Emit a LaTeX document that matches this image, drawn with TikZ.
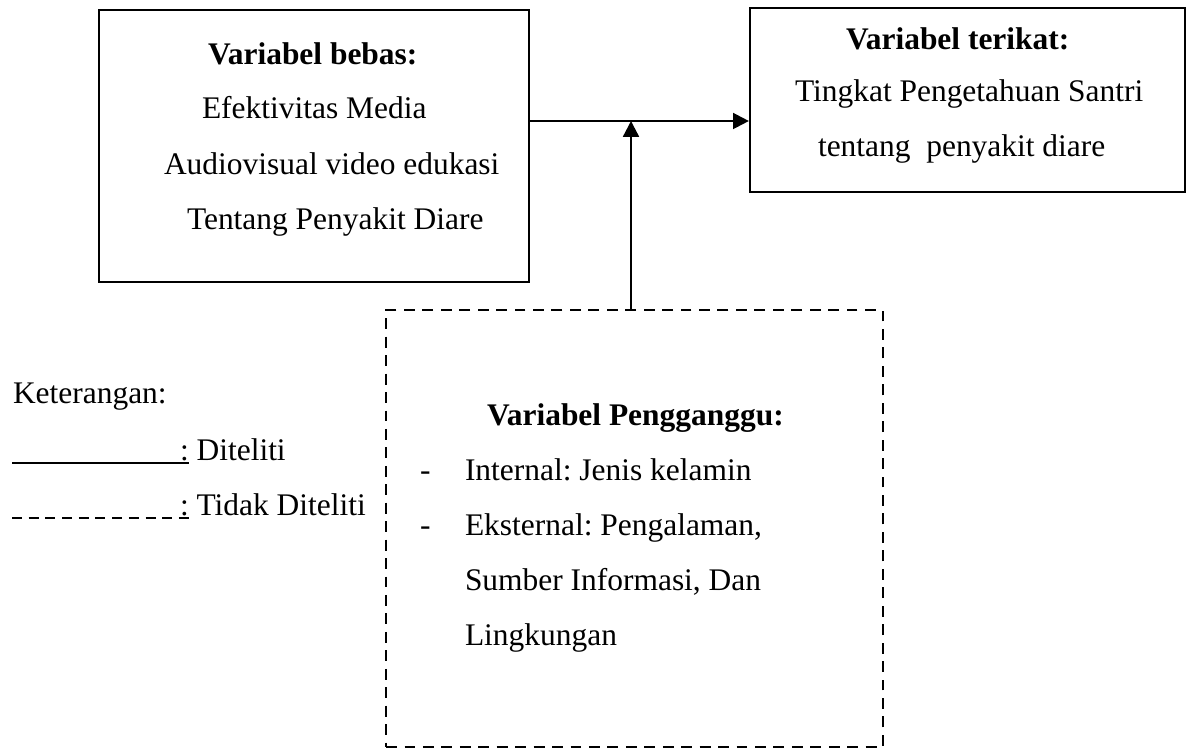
\documentclass[tikz,border=0pt]{standalone}
\usepackage{fontspec}
\setmainfont{Liberation Serif}
\usetikzlibrary{arrows.meta}
\frenchspacing
\begin{document}
\begin{tikzpicture}[x=0.02cm,y=-0.02cm,
  every node/.style={font=\fontsize{17.9pt}{20pt}\selectfont},
  txt/.style={anchor=base west,inner sep=0pt,outer sep=0pt},
  solidbox/.style={draw,line width=1.3pt,inner sep=0pt},
  dashbox/.style={draw,line width=1.3pt,inner sep=0pt,dash pattern=on 6.2pt off 4.3pt},
  arr/.style={line width=1.3pt,-{Triangle[length=9pt,width=9pt]}},
  legline/.style={line width=1.1pt}]
\useasboundingbox (0,0) rectangle (1189,756);
% boxes
\node[solidbox,minimum width=8.6cm,minimum height=5.44cm] (b1) at (314,146) {};
\node[solidbox,minimum width=8.7cm,minimum height=3.68cm] (b2) at (967.5,100) {};
\node[dashbox,minimum width=9.94cm,minimum height=8.74cm] (b3) at (634.5,528.5) {};
% box 1 text
\node[txt] (t1a) at (208,65) {\textbf{Variabel bebas:}};
\node[txt] (t1b) at (202,119) {Efektivitas Media};
\node[txt] (t1c) at (164,175) {Audiovisual video edukasi};
\node[txt] (t1d) at (187,230) {Tentang Penyakit Diare};
% box 2 text
\node[txt] (t2a) at (846,50) {\textbf{Variabel terikat:}};
\node[txt] (t2b) at (795,102) {Tingkat Pengetahuan Santri};
\node[txt] (t2c) at (818,157) {tentang\ \ penyakit diare};
% box 3 text
\node[txt] (t3a) at (487,425) {\textbf{Variabel Pengganggu:}};
\node[txt] (d1) at (420,480) {-};
\node[txt] (t3b) at (465,480) {Internal: Jenis kelamin};
\node[txt] (d2) at (420,535) {-};
\node[txt] (t3c) at (465,535) {Eksternal: Pengalaman,};
\node[txt] (t3d) at (465,590) {Sumber Informasi, Dan};
\node[txt] (t3e) at (465,645) {Lingkungan};
% connectors
\coordinate (j) at (631,121);
\draw[arr] (b1.east |- j) -- (b2.west |- j);
\draw[arr] (b3.north -| j) -- (j);
% legend
\node[txt] (k) at (13,403) {Keterangan:};
\coordinate (l1a) at (12,463);
\coordinate (l1b) at (189,463);
\draw[legline] (l1a) -- (l1b);
\node[txt] (k1) at (180,460) {: Diteliti};
\coordinate (l2a) at (12,518);
\coordinate (l2b) at (189,518);
\draw[legline,dash pattern=on 5.7pt off 3.8pt] (l2a) -- (l2b);
\node[txt] (k2) at (180,515) {: Tidak Diteliti};
\end{tikzpicture}
\end{document}
